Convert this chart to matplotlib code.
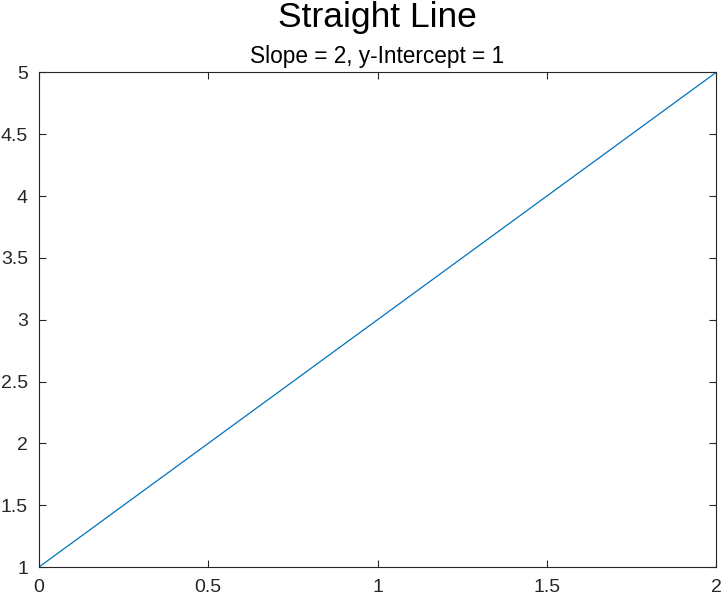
import numpy as np
import matplotlib.pyplot as plt

plt.rcParams['font.family'] = ['Liberation Sans', 'DejaVu Sans']

# datos de la recta y = 2x + 1
x = [0, 0.5, 1, 1.5, 2]
y = [1, 2, 3, 4, 5]
xticks = [0, 0.5, 1, 1.5, 2]
yticks = [1, 1.5, 2, 2.5, 3, 3.5, 4, 4.5, 5]

fig = plt.figure(figsize=(7.24, 6), dpi=100)
ax = fig.add_axes([39 / 724, 1 - 567 / 600, (716 - 39) / 724, (567 - 72.5) / 600])

ax.plot(x, y, color='#0072BD', linewidth=0.9)

ax.set_xlim(0, 2)
ax.set_ylim(1, 5)
ax.set_xticks(xticks)
ax.set_xticklabels(['0', '0.5', '1', '1.5', '2'])
ax.set_yticks(yticks)
ax.set_yticklabels(['1', '1.5', '2', '2.5', '3', '3.5', '4', '4.5', '5'])

ax.tick_params(direction='in', top=True, right=True, length=5, width=0.8,
               labelsize=14, colors='#262626')
ax.tick_params(axis='x', pad=9)
ax.tick_params(axis='y', pad=8)
for s in ax.spines.values():
    s.set_color('#262626')
    s.set_linewidth(0.8)

xc = (39 + 716) / 2 / 724
fig.text(xc, 1 - 18 / 600, 'Straight Line', ha='center', va='center', fontsize=25.5)
fig.text(xc, 1 - 57 / 600, 'Slope = 2, y-Intercept = 1', ha='center', va='center', fontsize=16.3)

plt.savefig('out.png')
